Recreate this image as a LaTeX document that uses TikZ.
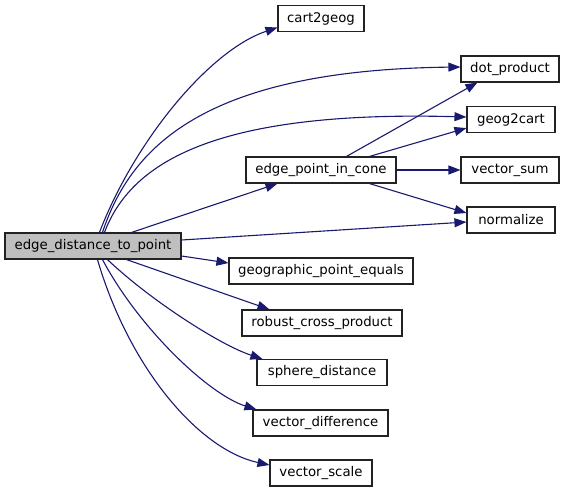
\documentclass[tikz,border=0pt]{standalone}
\usepackage{fontspec}
\setmainfont{DejaVu Sans}
\usetikzlibrary{arrows.meta}
\definecolor{edgeblue}{HTML}{191970}
\definecolor{boxline}{HTML}{222222}
\definecolor{mainfill}{HTML}{BFBFBF}
\begin{document}
\begin{tikzpicture}[x=1pt,y=-1pt,
  fn/.style={draw=boxline, line width=1.1pt, fill=white, minimum height=26pt, inner sep=0pt, font=\fontsize{13.3}{16}\selectfont, anchor=center},
  call/.style={draw=edgeblue, line width=1.1pt, -{Triangle[length=12pt,width=9pt]}}
]
\useasboundingbox (0,0) rectangle (565,493);

\node[fn, fill=mainfill, minimum width=176pt] (main) at (93,246) {edge\_distance\_to\_point};
\node[fn, minimum width=86pt]  (cart2geog) at (321,18.5) {cart2geog};
\node[fn, minimum width=98pt]  (dot) at (510,69) {dot\_product};
\node[fn, minimum width=88pt]  (geog) at (511,119.5) {geog2cart};
\node[fn, minimum width=150pt] (epic) at (321,170) {edge\_point\_in\_cone};
\node[fn, minimum width=98pt]  (vsum) at (510,170) {vector\_sum};
\node[fn, minimum width=88pt]  (norm) at (511,220) {normalize};
\node[fn, minimum width=184pt] (gpe) at (321,271) {geographic\_point\_equals};
\node[fn, minimum width=160pt] (rcp) at (322,323) {robust\_cross\_product};
\node[fn, minimum width=130pt] (sd) at (322,372.5) {sphere\_distance};
\node[fn, minimum width=135pt] (vd) at (320.5,423) {vector\_difference};
\node[fn, minimum width=102pt] (vs) at (321,473) {vector\_scale};

% from edge_distance_to_point
\draw[call] ([xshift=95pt]main.north west) .. controls (135,140) and (210,50) .. ([yshift=-9pt]cart2geog.west);
\draw[call] ([xshift=98pt]main.north west) .. controls (130,150) and (200,70) .. ([yshift=2pt]dot.west);
\draw[call] ([xshift=100pt]main.north west) .. controls (130,165) and (210,110) .. ([yshift=2.5pt]geog.west);
\draw[call] ([xshift=127pt]main.north west) -- ([xshift=32pt]epic.south west);
\draw[call] ([yshift=6pt]main.east) -- ([yshift=-2pt]norm.west);
\draw[call] ([yshift=-10pt]main.east) -- ([yshift=8pt]gpe.west);
\draw[call] ([xshift=122pt]main.south west) -- ([xshift=28pt]rcp.north west);
\draw[call] ([xshift=103pt]main.south west) .. controls (150,300) and (220,345) .. ([xshift=6pt]sd.north west);
\draw[call] ([xshift=98pt]main.south west) .. controls (140,330) and (210,395) .. ([xshift=4pt]vd.north west);
\draw[call] ([xshift=93pt]main.south west) .. controls (130,370) and (200,450) .. ([yshift=8pt]vs.west);

% from edge_point_in_cone
\draw[call] ([xshift=101pt]epic.north west) -- ([xshift=17pt]dot.south west);
\draw[call] ([xshift=124pt]epic.north west) -- ([yshift=5pt]geog.south west);
\draw[call] (epic.east) -- (vsum.west);
\draw[call] ([xshift=124pt]epic.south west) -- ([yshift=7pt]norm.west);
\end{tikzpicture}
\end{document}
